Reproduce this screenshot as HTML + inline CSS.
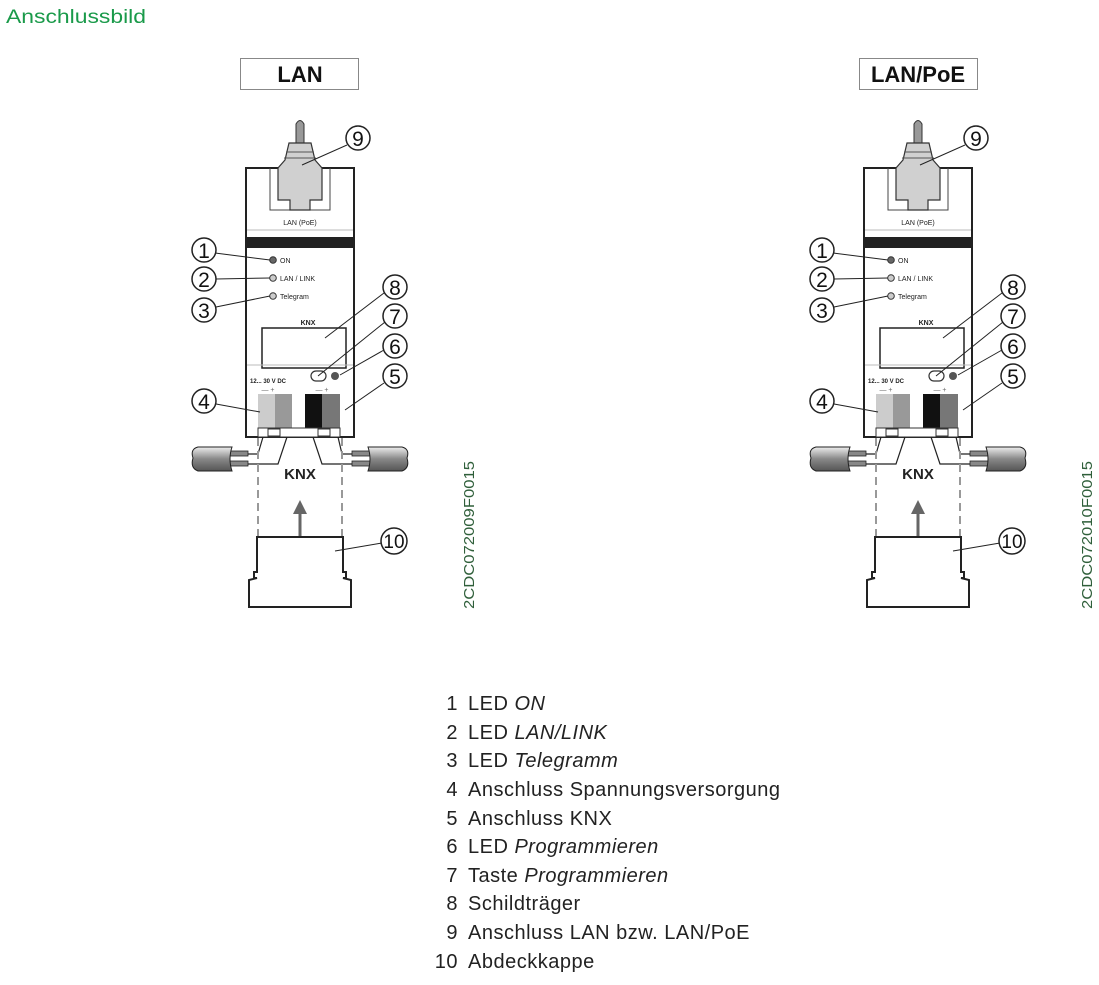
<!DOCTYPE html>
<html><head><meta charset="utf-8"><style>
html,body{margin:0;padding:0;background:#fff;width:1099px;height:985px;overflow:hidden}
svg{display:block}
</style></head><body>
<svg width="1099" height="985" viewBox="0 0 1099 985" xmlns="http://www.w3.org/2000/svg" font-family="Liberation Sans, sans-serif">
<defs>
<linearGradient id="cab" x1="0" y1="0" x2="0" y2="1">
<stop offset="0" stop-color="#eee"/><stop offset="0.5" stop-color="#888"/><stop offset="1" stop-color="#555"/></linearGradient>
<g id="dev">
  <path d="M296,145 L296,124 Q300,117 304,124 L304,145 Z" fill="#999" stroke="#333" stroke-width="1"/>
  <rect x="246" y="168" width="108" height="269" fill="#fff" stroke="#222" stroke-width="2"/>
  <path d="M270,168 L270,210 L330,210 L330,168" fill="none" stroke="#444" stroke-width="1"/>
  <path d="M289,143 L311,143 L315,160 L322,168 L322,200 L310,200 L310,210 L290,210 L290,200 L278,200 L278,168 L285,160 Z" fill="#d0d0d0" stroke="#333" stroke-width="1.2"/>
  <path d="M286,152 L314,152 M284,158 L316,158" stroke="#555" stroke-width="1"/>
  <text x="300" y="225" font-size="7" text-anchor="middle" fill="#222">LAN (PoE)</text>
  <line x1="247" y1="230" x2="353" y2="230" stroke="#bbb" stroke-width="1"/>
  <rect x="247" y="237" width="106" height="11" fill="#222"/>
  <circle cx="273" cy="260" r="3.3" fill="#666" stroke="#333"/>
  <circle cx="273" cy="278" r="3.3" fill="#ccc" stroke="#333"/>
  <circle cx="273" cy="296" r="3.3" fill="#ccc" stroke="#333"/>
  <text x="280" y="263" font-size="7" fill="#222">ON</text>
  <text x="280" y="281" font-size="7" fill="#222">LAN / LINK</text>
  <text x="280" y="299" font-size="7" fill="#222">Telegram</text>
  <text x="308" y="325" font-size="7" font-weight="bold" text-anchor="middle" fill="#222">KNX</text>
  <rect x="262" y="328" width="84" height="40" fill="#fff" stroke="#222" stroke-width="1.5"/>
  <line x1="247" y1="365" x2="353" y2="365" stroke="#bbb"/>
  <text x="250" y="383" font-size="6" font-weight="bold" fill="#222">12... 30 V DC</text>
  <rect x="311" y="371" width="15" height="10" rx="5" fill="#fff" stroke="#333" stroke-width="1.2"/>
  <circle cx="335" cy="376" r="4" fill="#555"/>
  <text x="268" y="392" font-size="7" fill="#666" text-anchor="middle">— +</text>
  <text x="322" y="392" font-size="7" fill="#666" text-anchor="middle">— +</text>
  <rect x="258" y="394" width="17" height="34" fill="#ccc"/>
  <rect x="275" y="394" width="17" height="34" fill="#999"/>
  <rect x="305" y="394" width="17" height="34" fill="#111"/>
  <rect x="322" y="394" width="18" height="34" fill="#777"/>
  <rect x="258" y="428" width="82" height="9" fill="#fff" stroke="#333" stroke-width="1"/>
  <rect x="268" y="429" width="12" height="7" fill="#fff" stroke="#333"/>
  <rect x="318" y="429" width="12" height="7" fill="#fff" stroke="#333"/>
  <path d="M263,437 L258,454 L246,454 M287,437 L278,464 L246,464" fill="none" stroke="#222" stroke-width="1.2"/>
  <path d="M313,437 L322,464 L354,464 M338,437 L342,454 L354,454" fill="none" stroke="#222" stroke-width="1.2"/>
  <rect x="228" y="451" width="20" height="5" fill="#888" stroke="#222" stroke-width="0.8"/>
  <rect x="228" y="461" width="20" height="5" fill="#888" stroke="#222" stroke-width="0.8"/>
  <rect x="352" y="451" width="20" height="5" fill="#888" stroke="#222" stroke-width="0.8"/>
  <rect x="352" y="461" width="20" height="5" fill="#888" stroke="#222" stroke-width="0.8"/>
  <path d="M232,447 L198,447 Q190,449 193,458 Q190,468 198,471 L232,471 Q228,459 232,447 Z" fill="url(#cab)" stroke="#222" stroke-width="1"/>
  <path d="M368,447 L402,447 Q410,449 407,458 Q410,468 402,471 L368,471 Q372,459 368,447 Z" fill="url(#cab)" stroke="#222" stroke-width="1"/>
  <text x="300" y="479" font-size="15" font-weight="bold" text-anchor="middle" fill="#222">KNX</text>
  <line x1="258" y1="438" x2="258" y2="537" stroke="#999" stroke-width="2" stroke-dasharray="8,5"/>
  <line x1="342" y1="438" x2="342" y2="537" stroke="#999" stroke-width="2" stroke-dasharray="8,5"/>
  <line x1="300" y1="548" x2="300" y2="512" stroke="#666" stroke-width="3"/>
  <path d="M293,514 L300,500 L307,514 Z" fill="#666"/>
  <path d="M257,537 L343,537 L343,572 L346,572 L346,578 L343,578 L351,580 L351,607 L249,607 L249,580 L257,578 L254,578 L254,572 L257,572 Z" fill="#fff" stroke="#222" stroke-width="2"/>
  <g stroke="#222" stroke-width="1" fill="none">
    <line x1="215" y1="253" x2="270" y2="260"/>
    <line x1="216" y1="279" x2="270" y2="278"/>
    <line x1="216" y1="307" x2="270" y2="296"/>
    <line x1="347" y1="145" x2="302" y2="165"/>
    <line x1="384" y1="293" x2="325" y2="338"/>
    <line x1="385" y1="322" x2="318" y2="376"/>
    <line x1="384" y1="350" x2="340" y2="375"/>
    <line x1="384" y1="383" x2="345" y2="410"/>
    <line x1="216" y1="404" x2="260" y2="412"/>
    <line x1="382" y1="543" x2="335" y2="551"/>
  </g>
  <g fill="#fff" stroke="#222" stroke-width="1.5">
    <circle cx="204" cy="250" r="12"/><circle cx="204" cy="279" r="12"/><circle cx="204" cy="310" r="12"/>
    <circle cx="358" cy="138" r="12"/><circle cx="395" cy="287" r="12"/><circle cx="395" cy="316" r="12"/>
    <circle cx="395" cy="346" r="12"/><circle cx="395" cy="376" r="12"/><circle cx="204" cy="401" r="12"/>
    <circle cx="394" cy="541" r="13"/>
  </g>
  <g font-size="21" text-anchor="middle" fill="#111">
    <text x="204" y="258">1</text><text x="204" y="287">2</text><text x="204" y="318">3</text>
    <text x="358" y="146">9</text><text x="395" y="295">8</text><text x="395" y="324">7</text>
    <text x="395" y="354">6</text><text x="395" y="384">5</text><text x="204" y="409">4</text>
    <text x="394" y="548" font-size="19">10</text>
  </g>
</g>
</defs>
<text x="6" y="23" font-size="19" fill="#1a9a4a" textLength="140" lengthAdjust="spacingAndGlyphs">Anschlussbild</text>
<rect x="240.5" y="58.5" width="118" height="31" fill="#fff" stroke="#888"/>
<text x="300" y="82" font-size="22" font-weight="bold" text-anchor="middle" fill="#111">LAN</text>
<rect x="859.5" y="58.5" width="118" height="31" fill="#fff" stroke="#888"/>
<text x="918" y="82" font-size="22" font-weight="bold" text-anchor="middle" fill="#111">LAN/PoE</text>
<use href="#dev"/>
<use href="#dev" transform="translate(618,0)"/>
<text transform="translate(474,609) rotate(-90)" font-size="15" fill="#2f5f3a" textLength="148" lengthAdjust="spacingAndGlyphs">2CDC072009F0015</text>
<text transform="translate(1092,609) rotate(-90)" font-size="15" fill="#2f5f3a" textLength="148" lengthAdjust="spacingAndGlyphs">2CDC072010F0015</text>
<g font-size="20" fill="#222" letter-spacing="0.5">
<g text-anchor="end">
<text x="458" y="710">1</text><text x="458" y="739">2</text><text x="458" y="767">3</text><text x="458" y="796">4</text><text x="458" y="825">5</text>
<text x="458" y="853">6</text><text x="458" y="882">7</text><text x="458" y="910">8</text><text x="458" y="939">9</text><text x="458" y="968">10</text>
</g>
<text x="468" y="710">LED <tspan font-style="italic">ON</tspan></text>
<text x="468" y="739">LED <tspan font-style="italic">LAN/LINK</tspan></text>
<text x="468" y="767">LED <tspan font-style="italic">Telegramm</tspan></text>
<text x="468" y="796">Anschluss Spannungsversorgung</text>
<text x="468" y="825">Anschluss KNX</text>
<text x="468" y="853">LED <tspan font-style="italic">Programmieren</tspan></text>
<text x="468" y="882">Taste <tspan font-style="italic">Programmieren</tspan></text>
<text x="468" y="910">Schildträger</text>
<text x="468" y="939">Anschluss LAN bzw. LAN/PoE</text>
<text x="468" y="968">Abdeckkappe</text>
</g>
</svg>
</body></html>
